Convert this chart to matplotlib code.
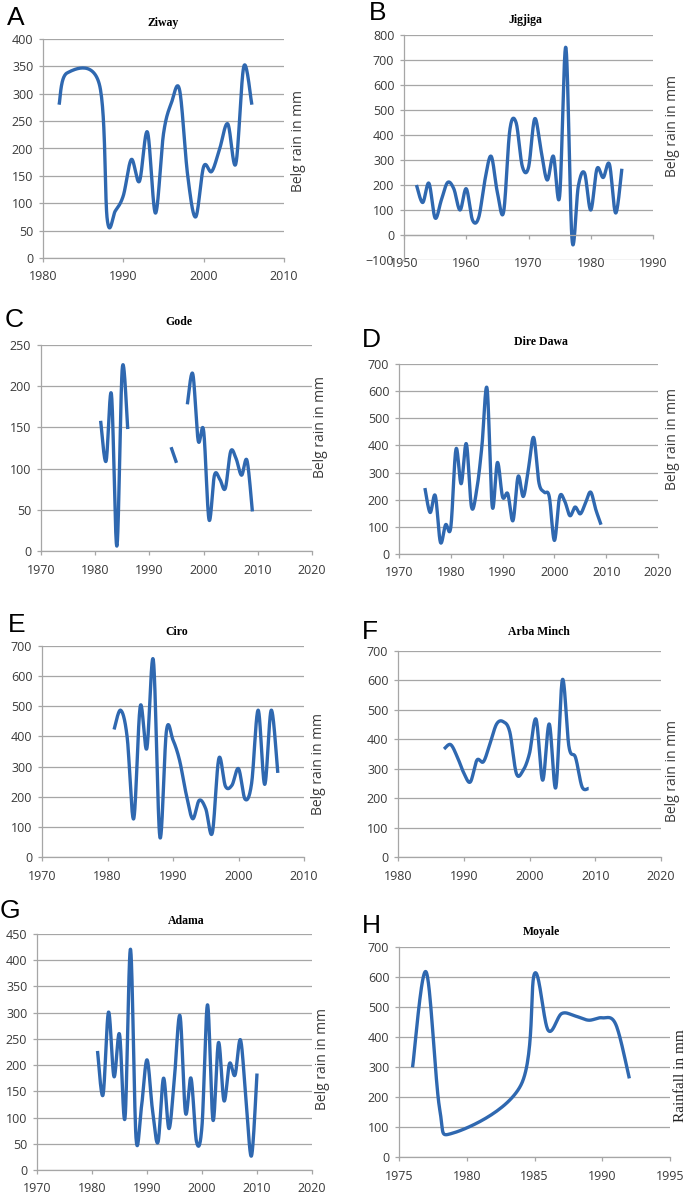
import matplotlib.pyplot as plt
import numpy as np

# ---- data (Belg rainfall, mm); years with no record are left out ----
ziway_years = [1982, 1983, 1987] + list(range(1988, 2007))
ziway_rain = [280, 338, 318, 70, 86, 114, 180, 140, 230, 82, 227,
              284, 307, 152, 75, 167, 158, 200, 245, 172, 350, 280]

jigjiga_years = list(range(1952, 1986))
jigjiga_rain = [200, 130, 207, 68, 140, 210, 185, 100, 185, 60, 70, 220, 315, 170,
                92, 420, 450, 275, 270, 465, 340, 220, 315, 155, 750, -20, 195,
                248, 100, 265, 230, 283, 88, 265]

gode_years = list(range(1981, 2010))
gode_rain = [158, 109, 190, 6, 222, 148, np.nan, np.nan, np.nan, np.nan, np.nan,
             np.nan, np.nan, 126, 107, np.nan, 178, 215, 134, 146, 38, 92, 87,
             76, 121, 112, 92, 110, 48]

diredawa_years = list(range(1975, 2010))
diredawa_rain = [243, 153, 215, 43, 108, 99, 386, 259, 406, 173, 236, 396, 610,
                 175, 337, 210, 222, 123, 286, 212, 316, 429, 264, 228, 212, 50,
                 210, 194, 141, 173, 148, 188, 228, 163, 108]

ciro_years = list(range(1981, 2007))
ciro_rain = [423, 487, 398, 127, 500, 360, 653, 66, 419, 388, 321, 210, 127, 188,
             160, 80, 327, 235, 238, 293, 192, 244, 487, 241, 487, 279]

arba_years = list(range(1987, 2010))
arba_rain = [367, 382, 341, 286, 255, 329, 324, 386, 452, 460, 425, 284, 293, 352,
             468, 261, 452, 236, 602, 375, 338, 238, 233]

adama_years = list(range(1981, 2011))
adama_rain = [227, 143, 301, 178, 259, 99, 421, 62, 121, 210, 114, 53, 175, 79,
              178, 294, 109, 175, 54, 84, 315, 95, 243, 132, 203, 181, 248, 134,
              27, 184]

moyale_years = [1976, 1977, 1978, 1979, 1984] + list(range(1985, 1993))
moyale_rain = [299, 617, 160, 80, 240, 611, 423, 478, 470, 456, 464, 442, 262]

W, H = 685, 1194
LINE = '#2F68B0'
GRID = '#A6A6A6'
TXT = '#3A3A3A'


def smooth(x, y, n=30):
    # Excel style smoothed line: bezier through the points (Catmull-Rom)
    x = np.asarray(x, float)
    y = np.asarray(y, float)
    xs, ys = [], []
    m = len(x)
    for i in range(m - 1):
        p0 = np.array([x[max(i - 1, 0)], y[max(i - 1, 0)]])
        p1 = np.array([x[i], y[i]])
        p2 = np.array([x[i + 1], y[i + 1]])
        p3 = np.array([x[min(i + 2, m - 1)], y[min(i + 2, m - 1)]])
        c1 = p1 + (p2 - p0) / 6
        c2 = p2 - (p3 - p1) / 6
        t = np.linspace(0, 1, n)[:, None]
        pts = ((1 - t) ** 3 * p1 + 3 * (1 - t) ** 2 * t * c1
               + 3 * (1 - t) * t ** 2 * c2 + t ** 3 * p2)
        xs.extend(pts[:, 0])
        ys.extend(pts[:, 1])
    return xs, ys


def draw_series(ax, years, vals):
    years = np.asarray(years, float)
    vals = np.asarray(vals, float)
    ok = ~np.isnan(vals)
    # split into runs of valid values (gaps stay empty)
    idx = np.where(ok)[0]
    runs = np.split(idx, np.where(np.diff(idx) != 1)[0] + 1)
    for r in runs:
        if len(r) < 2:
            continue
        sx, sy = smooth(years[r], vals[r])
        ax.plot(sx, sy, color=LINE, lw=2.4, solid_capstyle='butt',
                solid_joinstyle='round')


def panel(box, years, vals, xlim, xstep, ylim, ystep, letter, letter_xy,
          title, title_xy, ylab_xy, ylab='Belg rain in mm', serif_ylab=False,
          zero_axis=False, xpad=6):
    l, r, t, b = box
    ax = fig.add_axes([l / W, 1 - b / H, (r - l) / W, (b - t) / H])
    draw_series(ax, years, vals)
    ax.set_xlim(*xlim)
    ax.set_ylim(*ylim)
    ax.set_xticks(np.arange(xlim[0], xlim[1] + 1, xstep))
    ax.set_yticks(np.arange(ylim[0], ylim[1] + 1, ystep))
    ax.yaxis.grid(True, color=GRID, lw=0.9)
    ax.set_axisbelow(True)
    for s in ['top', 'right']:
        ax.spines[s].set_visible(False)
    for s in ['left', 'bottom']:
        ax.spines[s].set_color(GRID)
        ax.spines[s].set_linewidth(0.9)
    if zero_axis:
        ax.spines['bottom'].set_position(('data', 0))
    ax.tick_params(axis='both', direction='out', length=3, width=0.9,
                   color=GRID, labelsize=9, labelcolor=TXT)
    ax.tick_params(axis='x', pad=xpad)
    ax.tick_params(axis='y', pad=4)
    for lab in ax.get_xticklabels() + ax.get_yticklabels():
        lab.set_fontfamily('Open Sans')

    fig.text(letter_xy[0] / W, 1 - letter_xy[1] / H, letter, fontsize=19,
             family='Liberation Sans', ha='left', va='baseline')
    fig.text(title_xy[0] / W, 1 - title_xy[1] / H, title, fontsize=8.5,
             family='Liberation Serif', weight='bold', ha='center',
             va='center')
    if serif_ylab:
        fig.text(ylab_xy[0] / W, 1 - ylab_xy[1] / H, ylab, fontsize=11,
                 family='Liberation Serif', rotation=90, ha='center',
                 va='center', color='#222222')
    else:
        fig.text(ylab_xy[0] / W, 1 - ylab_xy[1] / H, ylab, fontsize=10,
                 family='Open Sans', rotation=90, ha='center', va='center',
                 color=TXT)
    return ax


fig = plt.figure(figsize=(W / 100, H / 100), dpi=100)

panel((43, 284, 39, 258), ziway_years, ziway_rain, (1980, 2010), 10,
      (0, 400), 50, 'A', (7, 25), 'Ziway', (163, 23), (298, 141))
panel((404, 653, 35, 260), jigjiga_years, jigjiga_rain, (1950, 1990), 10,
      (-100, 800), 100, 'B', (369, 20), 'Jigjiga', (525, 20), (672, 126),
      zero_axis=True, xpad=13)
panel((41, 312, 345, 551), gode_years, gode_rain, (1970, 2020), 10,
      (0, 250), 50, 'C', (5, 327), 'Gode', (179, 322), (320, 427))
panel((399, 658, 364, 554), diredawa_years, diredawa_rain, (1970, 2020), 10,
      (0, 700), 100, 'D', (362, 347), 'Dire Dawa', (541, 342), (673, 439))
panel((42, 304, 646, 857), ciro_years, ciro_rain, (1970, 2010), 10,
      (0, 700), 100, 'E', (8, 632), 'Ciro', (177, 632), (318, 764))
panel((398, 661, 651, 857), arba_years, arba_rain, (1980, 2020), 10,
      (0, 700), 100, 'F', (362, 639), 'Arba Minch', (539, 632), (673, 771))
panel((37, 312, 934, 1170), adama_years, adama_rain, (1970, 2020), 10,
      (0, 450), 50, 'G', (0, 918), 'Adama', (186, 921), (323, 1059))
panel((399, 670, 947, 1157), moyale_years, moyale_rain, (1975, 1995), 5,
      (0, 700), 100, 'H', (362, 933), 'Moyale', (541, 932), (680, 1076),
      ylab='Rainfall in mm', serif_ylab=True)

fig.savefig('out.png', dpi=100, facecolor='white')
